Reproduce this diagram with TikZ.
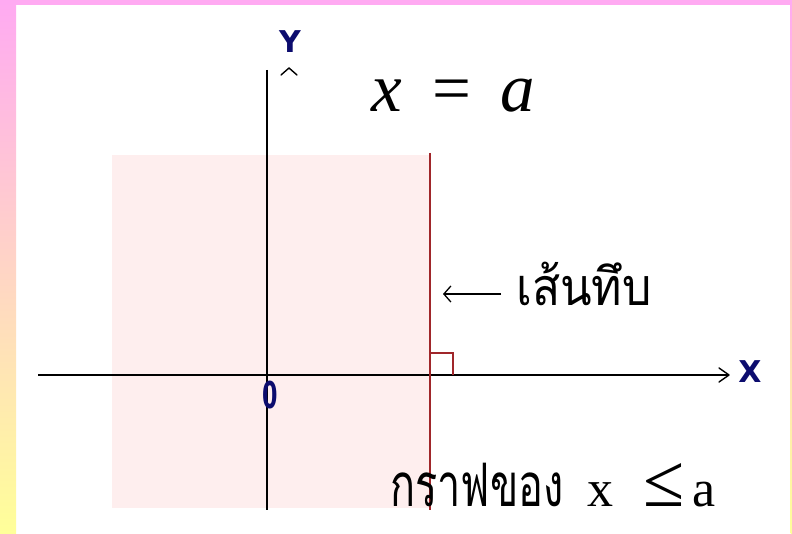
\documentclass[tikz,border=0pt]{standalone}
\usepackage{fontspec}
\usetikzlibrary{arrows.meta}
\setmainfont{Liberation Serif}
\newfontfamily\thaiwide[Script=Thai,FakeStretch=0.89]{Loma}
\newfontfamily\thainarrow[Script=Thai,FakeStretch=0.69]{Loma}
\newfontfamily\labfont{DejaVu Sans}
\definecolor{barpink}{HTML}{FFAAF2}
\definecolor{barmid}{HTML}{FFC8D6}
\definecolor{baryellow}{HTML}{FFFF99}
\definecolor{regionpink}{HTML}{FEEEEE}
\definecolor{linered}{HTML}{A0262A}
\definecolor{navy}{HTML}{0C0C6E}
\tikzset{
  axis/.style={line width=2.4pt, black},
  tip/.style={line width=1.4pt, black, line cap=round, line join=round},
  solidline/.style={line width=2.4pt, linered},
  axlabel/.style={text=navy, font=\labfont\bfseries\fontsize{30}{30}\selectfont, inner sep=0pt},
}
\begin{document}
\begin{tikzpicture}[x=1pt,y=-1pt]
\useasboundingbox (0,0) rectangle (792,534);
\fill[white] (0,0) rectangle (792,534);
% frame bars
\shade[top color=barpink, middle color=barmid, bottom color=baryellow] (0,0) rectangle (16,534);
\shade[top color=barpink, middle color=barmid, bottom color=baryellow] (790.5,0) rectangle (792,534);
\fill[barpink] (0,0) rectangle (792,5);
% shaded region
\fill[regionpink] (112,155) rectangle (430,508);
% axes
\draw[axis] (267,70) -- (267,510);
\draw[axis] (38,375) -- (728,375);
\draw[tip] (281,75) -- (289,68) -- (297,75);
\draw[tip] (719,368) -- (729,375) -- (719,382);
\node[axlabel] (ylab) at (290,42) {Y};
\node[axlabel] (xlab) at (750,372) {X};
\node[axlabel, xscale=0.6, font=\labfont\bfseries\fontsize{37}{37}\selectfont] (origin) at (270,395) {0};
% the line x = a
\draw[solidline] (430,153) -- (430,510);
\draw[solidline] (430,353) -- (453,353) -- (453,375);
% equation
\node[anchor=base west, inner sep=0pt, font=\fontsize{69}{80}\selectfont] (eq) at (371,112)
  {\textit{x}\hspace{0.45em}=\hspace{0.42em}\textit{a}};
% label of the solid line
\coordinate (arrowend) at (443,294);
\coordinate (arrowstart) at (501,294);
\draw[line width=1.3pt, -{Straight Barb[length=7pt,width=16pt]}] (arrowstart) -- (arrowend);
\node[anchor=base west, inner sep=0pt, font=\thaiwide\fontsize{52}{60}\selectfont] (solid) at (516,306) {เส้นทึบ};
% graph caption
\node[anchor=base west, inner sep=0pt] (caption) at (390,506)
  {{\thainarrow\fontsize{60}{70}\selectfont กราฟของ}\hspace{24pt}{\fontsize{52}{60}\selectfont x}\hspace{30pt}{\fontsize{75}{80}\selectfont ≤}\hspace{8pt}{\fontsize{52}{60}\selectfont a}};
\end{tikzpicture}
\end{document}
